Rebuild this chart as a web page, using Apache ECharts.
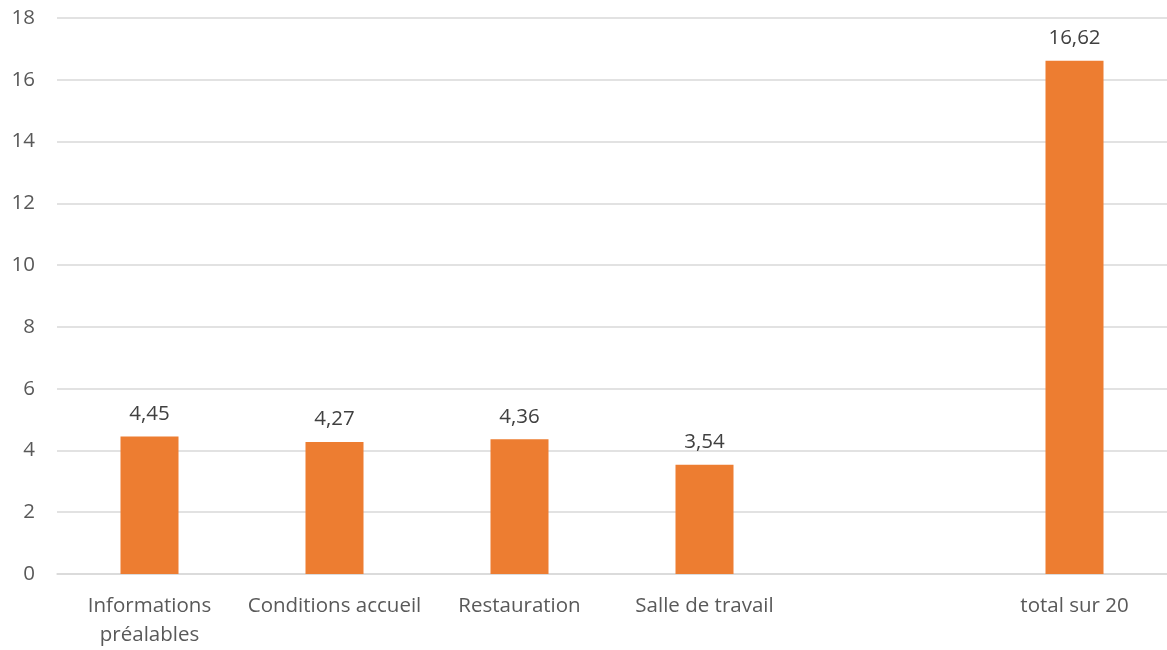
<!DOCTYPE html>
<html><head><meta charset="utf-8">
<script src="https://cdn.jsdelivr.net/npm/echarts@6/dist/echarts.min.js"></script>
<style>html,body{margin:0;padding:0;background:#fff}#c{width:1167px;height:650px}</style>
</head><body><div id="c"></div>
<script>
const categories = ['Informations\npréalables', 'Conditions accueil', 'Restauration', 'Salle de travail', '', 'total sur 20'];
const values = [4.45, 4.27, 4.36, 3.54, null, 16.62];
const yTicks = {min: 0, max: 18, interval: 2};

const FONT = '"Open Sans", sans-serif';
const chart = echarts.init(document.getElementById('c'));
chart.setOption({
  animation: false,
  textStyle: {fontFamily: FONT},
  grid: {left: 57, right: 0, top: 18, bottom: 76},
  xAxis: {
    type: 'category', data: categories,
    axisLine: {lineStyle: {color: '#d9d9d9', width: 1.5}},
    axisTick: {show: false},
    axisLabel: {color: '#595959', fontSize: 20.5, margin: 18, lineHeight: 29, interval: 0, fontFamily: FONT}
  },
  yAxis: {
    type: 'value', min: yTicks.min, max: yTicks.max, interval: yTicks.interval,
    axisLine: {show: false}, axisTick: {show: false},
    splitLine: {lineStyle: {color: '#d9d9d9', width: 1.5}},
    axisLabel: {color: '#595959', fontSize: 20.5, margin: 22, fontFamily: FONT}
  },
  series: [{
    type: 'bar', data: values, barWidth: 58,
    itemStyle: {color: '#ed7d31'},
    label: {show: true, position: 'top', distance: 12, color: '#404040', fontSize: 20.5, fontFamily: FONT,
      formatter: p => p.value == null ? '' : p.value.toFixed(2).replace('.', ',')}
  }]
});
</script></body></html>
